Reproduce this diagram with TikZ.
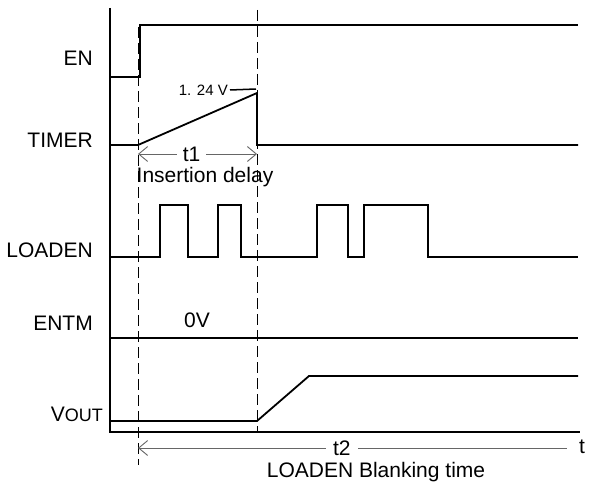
\documentclass[tikz,border=0pt]{standalone}
\usepackage{fontspec}
\setmainfont{Liberation Sans}
\usetikzlibrary{arrows.meta}

\begin{document}
\begin{tikzpicture}[
    x=1pt, y=-1pt,
    sig/.style={line width=1.8pt, line join=miter},
    guide/.style={line width=0.9pt, dash pattern=on 11pt off 5pt},
    dim/.style={draw=black!60, line width=0.9pt},
    barb/.tip={Straight Barb[length=9pt, width=15pt]},
    lbl/.style={font=\fontsize{21}{24}\selectfont, inner sep=0pt},
    small/.style={font=\fontsize{15}{18}\selectfont, inner sep=0pt}
]
\useasboundingbox (0,0) rectangle (592,487);

% signal names
\node[lbl, anchor=base east] (en) at (93,66) {EN};
\node[lbl, anchor=base east] (timer) at (93,147) {TIMER};
\node[lbl, anchor=base east] (loaden) at (93,257) {LOADEN};
\node[lbl, anchor=base east] (entm) at (93,330) {ENTM};
\node[lbl, anchor=base east] (vout) at (103,421) {V{\fontsize{18}{20}\selectfont OUT}};

% axes
\draw[sig] (110,8) -- (110,432) -- (580,432);
\node[lbl] (tax) at (582,447) {t};

% time markers
\draw[guide] (138,27) -- (138,465);
\draw[guide] (257,10) -- (257,432);

% waveforms
\draw[sig] (110,77) -- (140,77) -- (140,25) -- (578,25);
\draw[sig] (110,145) -- (138,145) -- (257,93) -- (257,145) -- (578,145);
\draw[sig] (110,257) -- (160,257) -- (160,205) -- (188,205) -- (188,257)
    -- (218,257) -- (218,205) -- (241,205) -- (241,257)
    -- (317,257) -- (317,205) -- (348,205) -- (348,257)
    -- (364,257) -- (364,205) -- (428,205) -- (428,257) -- (578,257);
\draw[sig] (110,338) -- (578,338);
\draw[sig] (110,421) -- (257,421) -- (309,376) -- (578,376);

% threshold
\node[small, anchor=east] (vth) at (228,90) {1. 24 V};
\coordinate (vthend) at (256,89);
\draw[line width=1.5pt] (vth.east) ++(2pt,0) -- (vthend);

\node[lbl, anchor=base] (zero) at (197,327) {0V};

% delays
\coordinate (t1a) at (138,154);
\coordinate (t1b) at (257,154);
\draw[dim, barb-barb] (t1a) -- node[pos=0.45, lbl, fill=white, inner xsep=6pt] (t1) {t1} (t1b);
\node[lbl, anchor=base] (ins) at (205,182) {Insertion delay};

\coordinate (t2a) at (138,448);
\coordinate (t2b) at (567,448);
\draw[dim, barb-] (t2a) -- node[pos=0.475, lbl, fill=white, inner xsep=7pt] (t2) {t2} (t2b);
\node[lbl, anchor=base] (blank) at (376,477) {LOADEN Blanking time};
\end{tikzpicture}
\end{document}
